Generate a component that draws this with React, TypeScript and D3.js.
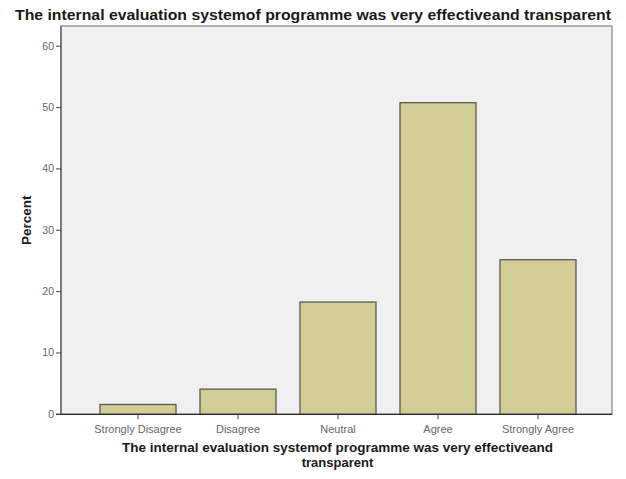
import React from "react";
import * as d3 from "d3";

const categories = ["Strongly Disagree", "Disagree", "Neutral", "Agree", "Strongly Agree"];
const percents = [1.6, 4.1, 18.3, 50.8, 25.2];
const yTicks = [0, 10, 20, 30, 40, 50, 60];
const title = "The internal evaluation systemof programme was very effectiveand transparent";
const xTitleLines = ["The internal evaluation systemof programme was very effectiveand", "transparent"];
const yTitle = "Percent";

export default function App() {
  const W = 626, H = 479;
  const plotL = 61, plotR = 612, plotT = 26, base = 414.3;
  const x = d3.scaleBand<string>().domain(categories).range([88, 588]).paddingInner(0.24).paddingOuter(0.12);
  const y = d3.scaleLinear().domain([0, 63.3]).range([base, plotT]);
  const font = "'Liberation Sans', Arial, sans-serif";
  const cx = (plotL + plotR) / 2;
  return (
    <svg width={W} height={H} style={{ position: "fixed", left: 0, top: 0, background: "#fff" }} fontFamily={font}>
      <rect x={0} y={0} width={W} height={H} fill="#ffffff" />
      <text x={313} y={20} textAnchor="middle" fontSize={15} fontWeight="bold" fill="#1a1a1a"
        textLength={596} lengthAdjust="spacingAndGlyphs">{title}</text>
      <rect x={plotL} y={plotT} width={plotR - plotL} height={base - plotT} fill="#f0f0f0" stroke="#9a9a9a" strokeWidth={1.5} />
      {categories.map((c, i) => (
        <rect key={c} x={x(c)} y={y(percents[i])} width={x.bandwidth()} height={base - y(percents[i])}
          fill="#d3ce97" stroke="#5c5a4c" strokeWidth={1.3} />
      ))}
      <line x1={plotL} x2={plotL} y1={plotT} y2={base} stroke="#6a6a6a" strokeWidth={1.5} />
      <line x1={plotL - 5} x2={plotR} y1={base} y2={base} stroke="#2a2a2a" strokeWidth={1.3} />
      {yTicks.map(t => (
        <g key={t}>
          <line x1={plotL - 5} x2={plotL} y1={y(t)} y2={y(t)} stroke="#444" strokeWidth={1} />
          <text x={plotL - 7} y={y(t) + 3.5} textAnchor="end" fontSize={10.5} fill="#666">{t}</text>
        </g>
      ))}
      {categories.map(c => {
        const mx = (x(c) as number) + x.bandwidth() / 2;
        return (
          <g key={c}>
            <line x1={mx} x2={mx} y1={base} y2={base + 5} stroke="#444" strokeWidth={1} />
            <text x={mx} y={433} textAnchor="middle" fontSize={11} fill="#666">{c}</text>
          </g>
        );
      })}
      <text transform={`translate(31,${(plotT + base) / 2}) rotate(-90)`} textAnchor="middle" fontSize={13.5} fontWeight="bold" fill="#1a1a1a">{yTitle}</text>
      {xTitleLines.map((l, i) => (
        <text key={i} x={cx + 1} y={452 + i * 14.5} textAnchor="middle" fontSize={13} fontWeight="bold" fill="#1a1a1a"
          textLength={i === 0 ? 431 : undefined} lengthAdjust="spacingAndGlyphs">{l}</text>
      ))}
    </svg>
  );
}
